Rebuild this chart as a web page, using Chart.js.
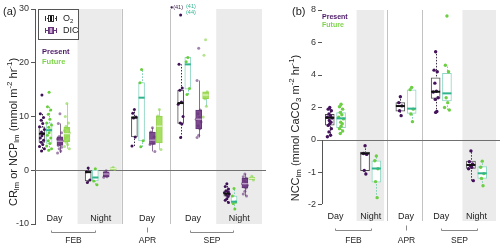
<!DOCTYPE html>
<html>
<head>
<meta charset="utf-8">
<title>CR / NCP and NCC box plots</title>
<script src="https://cdn.jsdelivr.net/npm/chart.js@4.4.1/dist/chart.umd.min.js"></script>
<style>
  html, body { margin: 0; padding: 0; background: #ffffff; }
  #panelA { position: absolute; left: 0; top: 0; width: 266px; height: 248px; }
  #panelB { position: absolute; left: 266px; top: 0; width: 234px; height: 248px; }
</style>
</head>
<body>
<div id="panelA"><canvas id="chartA"></canvas></div>
<div id="panelB"><canvas id="chartB"></canvas></div>
<script>
// ---- data -------------------------------------------------------------
const categories = ['FEB Day', 'FEB Night', 'APR Day', 'SEP Day', 'SEP Night'];
const periodLabels = ['Day', 'Night', 'Day', 'Day', 'Night'];
const isNight = [false, true, false, false, true];
const monthLabels = ['FEB', 'APR', 'SEP'];
const monthSpans = [[0, 1], [2, 2], [3, 4]];
const yTicksA = [-10, 0, 10, 20, 30];
const yTicksBTop = [0, 1, 2, 3, 4, 5, 6, 7, 8];
const yTicksBBottom = [-2, -1];

// box stats: [whisker low, Q1, median, Q3, whisker high]
const o2PresentBox = [
  [3.5, 5.2, 6.8, 8.1, 10.5],
  [-2.3, -2.0, -0.35, -0.25, 0.4],
  [4.5, 6.2, 9.8, 9.95, 11.3],
  [6.1, 8.7, 12.5, 14.9, 19.7],
  [-6.0, -4.8, -4.35, -3.85, -2.5]
];
const o2PresentPts = [
  [14.0, 10.5, 9.8, 9.3, 8.7, 8.1, 7.6, 7.1, 6.8, 6.4, 6.0, 5.6, 5.2, 4.8, 4.4, 4.0, 3.6],
  [0.4, -0.3, -1.8, -2.3],
  [11.3, 10.6, 9.9, 9.7, 6.2, 4.5],
  [28.9, 19.7, 15.3, 14.9, 12.7, 12.3, 10.0, 8.8, 8.6, 6.1],
  [-2.5, -3.0, -3.5, -3.8, -4.0, -4.2, -4.4, -4.6, -4.9, -5.3, -5.6, -6.0]
];
const o2FutureBox = [
  [3.7, 5.0, 7.45, 8.8, 11.8],
  [-2.7, -2.0, -1.35, 0.05, 0.3],
  [4.35, 5.45, 13.5, 16.3, 18.75],
  [14.1, 15.1, 19.7, 21.0, 21.0],
  [-7.2, -6.15, -5.85, -4.8, -3.4]
];
const o2FuturePts = [
  [14.5, 11.8, 11.2, 10.4, 9.5, 8.8, 8.4, 8.0, 7.5, 7.0, 6.5, 6.0, 5.5, 5.0, 4.5, 4.0, 3.7],
  [0.3, -2.0, -2.7],
  [18.75, 16.3, 5.5, 4.35],
  [21.0, 20.2, 15.2, 14.1],
  [-3.4, -4.8, -5.9, -6.2, -7.2]
];
const dicPresentBox = [
  [3.2, 4.6, 5.4, 6.2, 8.7],
  [-1.3, -1.2, -0.7, -0.3, -0.1],
  [3.5, 4.8, 5.6, 7.1, 7.9],
  [6.1, 7.7, 9.5, 11.2, 16.7],
  [-4.8, -3.3, -2.5, -1.5, -0.7]
];
const dicPresentPts = [
  [10.5, 8.7, 7.0, 6.3, 6.0, 5.8, 5.5, 5.3, 5.0, 4.8, 4.6, 4.3, 4.0, 3.6, 3.2],
  [-0.1, -0.4, -0.7, -0.9, -1.2, -1.3],
  [7.9, 7.1, 6.2, 5.6, 5.0, 4.8, 3.5],
  [22.7, 16.7, 11.2, 10.5, 9.8, 9.5, 9.0, 8.3, 7.7, 6.5, 6.1],
  [-0.7, -1.2, -1.5, -1.9, -2.2, -2.5, -2.8, -3.1, -3.3, -3.9, -4.4, -4.8]
];
const dicFutureBox = [
  [4.0, 5.3, 6.8, 8.0, 12.4],
  [0.1, 0.15, 0.3, 0.45, 0.5],
  [3.85, 5.1, 8.2, 10.1, 11.3],
  [11.9, 13.3, 14.0, 14.6, 14.6],
  [-1.8, -1.7, -1.5, -1.3, -1.1]
];
const dicFuturePts = [
  [12.4, 10.0, 8.8, 8.2, 7.8, 7.4, 7.0, 6.8, 6.5, 6.2, 5.9, 5.5, 5.2, 4.8, 4.4, 4.0],
  [0.5, 0.3, 0.15],
  [11.3, 10.1, 3.85],
  [24.3, 21.4, 14.6, 13.3, 11.9, 9.9],
  [-1.1, -1.5, -1.8]
];

const nccPresentBox = [
  [0.2, 0.92, 1.37, 1.58, 2.0],
  [-1.06, -0.96, -0.42, -0.38, -0.18],
  [1.5, 1.78, 2.09, 2.3, 2.66],
  [1.7, 2.56, 2.97, 3.83, 5.43],
  [-1.27, -0.89, -0.78, -0.66, -0.34]
];
const nccPresentPts = [
  [2.0, 1.9, 1.8, 1.6, 1.5, 1.4, 1.35, 1.2, 1.1, 1.0, 0.9, 0.7, 0.5, 0.3, 0.2],
  [-0.18, -0.42, -0.45, -0.95, -1.06],
  [2.66, 2.3, 2.1, 1.8, 1.5],
  [5.43, 4.3, 4.2, 3.5, 3.0, 2.95, 2.6, 2.5, 1.75, 1.7],
  [-0.34, -0.68, -0.75, -0.8, -0.85, -0.9, -1.27]
];
const nccFutureBox = [
  [0.4, 0.76, 1.33, 1.68, 2.2],
  [-1.8, -1.32, -0.89, -0.65, -0.5],
  [1.13, 1.64, 1.93, 3.08, 3.24],
  [1.85, 2.4, 2.87, 4.1, 4.6],
  [-1.43, -1.2, -1.04, -0.83, -0.66]
];
const nccFuturePts = [
  [2.2, 2.05, 1.9, 1.7, 1.55, 1.4, 1.3, 1.1, 1.0, 0.85, 0.7, 0.55, 0.4],
  [-0.5, -0.65, -0.9, -1.3, -1.8],
  [3.24, 3.1, 1.9, 1.6, 1.13],
  [7.63, 4.6, 4.2, 2.6, 2.3, 2.0, 1.85],
  [-0.66, -0.85, -1.05, -1.2, -1.43]
];

// ---- styles -----------------------------------------------------------
const FONT = '"Liberation Sans", Arial, Helvetica, sans-serif';
const PURPLE = '#4a1766';
const GREEN = '#7fd44c';
const TEAL = '#30b48e';
Chart.defaults.font.family = FONT;

const seriesA = [
  { stats: o2PresentBox, pts: o2PresentPts, offset: -0.27, width: 6, fill: '#ffffff', border: '#4d4d4d',
    median: '#111111', medianW: 2, whisker: '#3a2d44', dash: [1.5, 1.5], ptColor: '#3f1156', r: 1.5, jit: 0.035 },
  { stats: o2FutureBox, pts: o2FuturePts, offset: -0.115, width: 6, fill: '#ffffff', border: '#8fd6c4',
    median: TEAL, medianW: 2, whisker: '#77cdb4', dash: [1.5, 1.5], ptColor: '#66cf3a', r: 1.5, jit: 0.035 },
  { stats: dicPresentBox, pts: dicPresentPts, offset: 0.12, width: 6, fill: '#7e4b8f', border: '#623476',
    median: '#c9a8d4', medianW: 1.2, whisker: '#8b6e98', dash: [], ptColor: 'rgba(100,50,120,0.6)', r: 1.5, jit: 0.035 },
  { stats: dicFutureBox, pts: dicFuturePts, offset: 0.27, width: 6, fill: '#a7df62', border: '#95d24e',
    median: '#e4f6c9', medianW: 1.2, whisker: '#9edbc9', dash: [], ptColor: 'rgba(140,215,80,0.65)', r: 1.5, jit: 0.035 }
];
const seriesB = [
  { stats: nccPresentBox, pts: nccPresentPts, offset: -0.16, width: 9, fill: '#ffffff', border: '#4d4d4d',
    median: '#111111', medianW: 2, whisker: '#3a2d44', dash: [1.5, 1.5], ptColor: '#44125c', r: 1.7, jit: 0.045 },
  { stats: nccFutureBox, pts: nccFuturePts, offset: 0.16, width: 9, fill: '#ffffff', border: '#8fd6c4',
    median: TEAL, medianW: 2, whisker: '#77cdb4', dash: [1.5, 1.5], ptColor: '#6ccf43', r: 1.7, jit: 0.045 }
];

// ---- helpers ----------------------------------------------------------
function jitter(i, w) {
  const p = [0, -1, 1, -0.5, 0.5, -1.5, 1.5, -0.25, 0.75];
  return p[i % p.length] * w;
}

function line(ctx, x0, y0, x1, y1) {
  ctx.beginPath();
  ctx.moveTo(x0, y0);
  ctx.lineTo(x1, y1);
  ctx.stroke();
}

function drawRich(ctx, parts, cx, cy, size, rotate) {
  ctx.save();
  ctx.translate(cx, cy);
  if (rotate) ctx.rotate(-Math.PI / 2);
  let total = 0;
  const items = parts.map(p => {
    const fs = p.s ? size * 0.72 : size;
    ctx.font = fs + 'px ' + FONT;
    const w = ctx.measureText(p.t).width;
    total += w;
    return { p, fs, w };
  });
  let x = -total / 2;
  ctx.textBaseline = 'middle';
  ctx.textAlign = 'left';
  ctx.fillStyle = '#222';
  items.forEach(it => {
    ctx.font = it.fs + 'px ' + FONT;
    const dy = it.p.s === 'sub' ? size * 0.3 : it.p.s === 'sup' ? -size * 0.35 : 0;
    ctx.fillText(it.p.t, x, dy);
    x += it.w;
  });
  ctx.restore();
}

function buildDatasets(series, axisFor) {
  const ds = [];
  series.forEach(s => {
    const groups = {};
    s.stats.forEach((st, i) => {
      const ax = axisFor(i);
      if (!groups[ax]) groups[ax] = { bars: [], pts: [] };
      groups[ax].bars.push({ x: i + s.offset, y: [st[1], st[3]] });
      s.pts[i].forEach((v, j) => groups[ax].pts.push({ x: i + s.offset + jitter(j, s.jit), y: v }));
    });
    Object.keys(groups).forEach(ax => {
      ds.push({
        type: 'bar', data: groups[ax].bars, xAxisID: 'x', yAxisID: ax,
        backgroundColor: s.fill, borderColor: s.border, borderWidth: 1, borderSkipped: false,
        barThickness: s.width, maxBarThickness: s.width, grouped: false, order: 2
      });
      ds.push({
        type: 'scatter', data: groups[ax].pts, xAxisID: 'x', yAxisID: ax,
        pointRadius: s.r, pointBackgroundColor: s.ptColor, pointBorderWidth: 0, order: 1
      });
    });
  });
  return ds;
}

// bands, separators, zero line, whiskers, medians and text labels
function boxDecor(cfg) {
  return {
    id: 'boxDecor',
    beforeDatasetsDraw(chart) {
      const { ctx, chartArea: ca } = chart;
      const xs = chart.scales.x;
      ctx.save();
      ctx.fillStyle = '#ebebeb';
      cfg.bands.forEach(([a, b]) => {
        const x0 = xs.getPixelForValue(a);
        const x1 = Math.min(xs.getPixelForValue(b), ca.right);
        ctx.fillRect(x0, ca.top, x1 - x0, ca.bottom - ca.top);
      });
      ctx.strokeStyle = '#c2c2c2';
      ctx.lineWidth = 1;
      cfg.lines.forEach(v => {
        const x = Math.round(xs.getPixelForValue(v)) + 0.5;
        line(ctx, x, ca.top, x, ca.bottom);
      });
      const yz = Math.round(chart.scales[cfg.zeroAxis].getPixelForValue(0)) + 0.5;
      ctx.strokeStyle = '#707070';
      line(ctx, ca.left - cfg.zeroExtendLeft, yz, chart.width, yz);
      if (cfg.lowerAxis) {
        const ys = chart.scales[cfg.lowerAxis];
        const x = ca.left + 0.5;
        ctx.strokeStyle = '#555';
        line(ctx, x, ys.getPixelForValue(0), x, ys.getPixelForValue(-2));
      }
      cfg.series.forEach(s => s.stats.forEach((st, i) => {
        const ys = chart.scales[cfg.axisFor(i)];
        const x = Math.round(xs.getPixelForValue(i + s.offset)) + 0.5;
        ctx.strokeStyle = s.whisker;
        ctx.setLineDash(s.dash);
        ctx.lineWidth = 1;
        line(ctx, x, ys.getPixelForValue(st[0]), x, ys.getPixelForValue(st[4]));
      }));
      ctx.setLineDash([]);
      ctx.restore();
    },
    afterDatasetsDraw(chart) {
      const ctx = chart.ctx;
      const xs = chart.scales.x;
      ctx.save();
      cfg.series.forEach(s => s.stats.forEach((st, i) => {
        const ys = chart.scales[cfg.axisFor(i)];
        const x = xs.getPixelForValue(i + s.offset);
        const y = ys.getPixelForValue(st[2]);
        ctx.strokeStyle = s.median;
        ctx.lineWidth = s.medianW;
        line(ctx, x - s.width / 2, y, x + s.width / 2, y);
      }));
      ctx.restore();
    },
    afterDraw(chart) {
      const ctx = chart.ctx;
      const xs = chart.scales.x;
      ctx.save();
      ctx.fillStyle = '#222';
      ctx.textAlign = 'center';
      ctx.textBaseline = 'middle';
      ctx.font = '9px ' + FONT;
      periodLabels.forEach((t, i) => ctx.fillText(t, xs.getPixelForValue(i), cfg.periodY));
      ctx.strokeStyle = '#8a8a8a';
      ctx.lineWidth = 1;
      monthSpans.forEach(([a, b], k) => {
        const x0 = Math.round(xs.getPixelForValue(a) + (a === b ? 0 : cfg.bracketIn[0])) + 0.5;
        const x1 = Math.round(xs.getPixelForValue(b) + (a === b ? 0 : cfg.bracketIn[1])) + 0.5;
        const y = cfg.bracketY + 0.5;
        if (a === b) {
          line(ctx, x0, y - 5, x0, y);
        } else {
          line(ctx, x0, y, x1, y);
          line(ctx, x0, y - 2, x0, y);
          line(ctx, x1, y - 2, x1, y);
        }
        ctx.font = '8.5px ' + FONT;
        ctx.fillText(monthLabels[k], (x0 + x1) / 2, cfg.monthY);
      });
      ctx.textAlign = 'left';
      ctx.font = '11px ' + FONT;
      ctx.fillText(cfg.panelLabel, cfg.panelLabelX, 12);
      drawRich(ctx, cfg.title, cfg.titleX, cfg.titleY, 11, true);
      ctx.font = 'bold ' + cfg.keyFont + 'px ' + FONT;
      ctx.fillStyle = PURPLE;
      ctx.fillText('Present', cfg.keyX, cfg.keyY);
      ctx.fillStyle = GREEN;
      ctx.fillText('Future', cfg.keyX, cfg.keyY + cfg.keyGap);
      if (cfg.extra) cfg.extra(ctx, chart);
      ctx.restore();
    }
  };
}

function legendIcon(ctx, x, y, fill, border, median, dashed) {
  ctx.strokeStyle = border;
  ctx.lineWidth = 1;
  ctx.setLineDash(dashed ? [1, 1] : []);
  line(ctx, x, y + 0.5, x + 12, y + 0.5);
  ctx.setLineDash([]);
  line(ctx, x + 0.5, y - 2, x + 0.5, y + 3);
  line(ctx, x + 11.5, y - 2, x + 11.5, y + 3);
  ctx.fillStyle = fill;
  ctx.fillRect(x + 3, y - 3, 6, 7);
  ctx.strokeRect(x + 3.5, y - 2.5, 5, 6);
  ctx.strokeStyle = median;
  ctx.lineWidth = 2;
  line(ctx, x + 6, y - 2, x + 6, y + 3);
}

function fixedTicks(values) {
  return s => { s.ticks = values.map(v => ({ value: v })); };
}

function yAxis(extra) {
  return Object.assign({
    type: 'linear',
    position: 'left',
    ticks: { color: '#333', font: { size: 9, family: FONT }, padding: 2 },
    grid: { drawOnChartArea: false, drawTicks: true, tickLength: 4, color: '#555' },
    border: { display: false }
  }, extra);
}

// ---- panel (a) --------------------------------------------------------
const axisA = () => 'y';
new Chart(document.getElementById('chartA'), {
  type: 'scatter',
  data: { datasets: buildDatasets(seriesA, axisA) },
  options: {
    responsive: true,
    maintainAspectRatio: false,
    animation: false,
    layout: { padding: { top: 9, bottom: 24, left: 0, right: 3 } },
    plugins: { legend: { display: false }, tooltip: { enabled: false } },
    scales: {
      x: { type: 'linear', min: -0.42, max: 4.49, display: false, offset: false },
      y: yAxis({
        min: -10, max: 30,
        border: { display: true, color: '#555' },
        afterBuildTicks: fixedTicks(yTicksA),
        afterFit: s => { s.width = 35; }
      })
    }
  },
  plugins: [boxDecor({
    series: seriesA, axisFor: axisA, zeroAxis: 'y', zeroExtendLeft: 0,
    bands: [[0.5, 1.455], [3.5, 4.6]], lines: [1.455, 2.51],
    periodY: 219, bracketY: 232, monthY: 241, bracketIn: [-3, -6],
    panelLabel: '(a)', panelLabelX: 3,
    title: [{ t: 'CR' }, { t: 'lm', s: 'sub' }, { t: ' or NCP' }, { t: 'lm', s: 'sub' },
            { t: ' (mmol m' }, { t: '-2', s: 'sup' }, { t: ' hr' }, { t: '-1', s: 'sup' }, { t: ')' }],
    titleX: 14, titleY: 132,
    keyX: 42, keyY: 52, keyGap: 10, keyFont: 7.5,
    extra(ctx) {
      ctx.fillStyle = '#ffffff';
      ctx.fillRect(38, 9, 41, 31);
      ctx.strokeStyle = '#555';
      ctx.lineWidth = 1;
      ctx.strokeRect(38.5, 9.5, 40, 30);
      legendIcon(ctx, 45, 18, '#ffffff', '#333', '#111', true);
      legendIcon(ctx, 45, 30, '#7e4b8f', '#623476', '#c9a8d4', false);
      ctx.fillStyle = '#222';
      ctx.font = '9px ' + FONT;
      ctx.fillText('O', 63, 19);
      const w = ctx.measureText('O').width;
      ctx.font = '6px ' + FONT;
      ctx.fillText('2', 63 + w, 21.5);
      ctx.font = '9px ' + FONT;
      ctx.fillText('DIC', 63, 31);
      ctx.font = '5.5px ' + FONT;
      ctx.fillStyle = '#3a1a4a';
      ctx.textAlign = 'right';
      ctx.fillText('\u25CF(41)', 183, 7);
      ctx.textAlign = 'left';
      ctx.fillStyle = TEAL;
      ctx.fillText('(41)', 186, 6);
      ctx.fillText('(44)', 186, 12.5);
    }
  })]
});

// ---- panel (b) --------------------------------------------------------
const axisB = i => (isNight[i] ? 'yBot' : 'yTop');
new Chart(document.getElementById('chartB'), {
  type: 'scatter',
  data: { datasets: buildDatasets(seriesB, axisB) },
  options: {
    responsive: true,
    maintainAspectRatio: false,
    animation: false,
    layout: { padding: { top: 10, bottom: 27, left: 0, right: 2 } },
    plugins: { legend: { display: false }, tooltip: { enabled: false } },
    scales: {
      x: { type: 'linear', min: -0.38, max: 4.55, display: false, offset: false },
      yTop: yAxis({
        min: 0, max: 8, stack: 'ncc', stackWeight: 130, weight: 1,
        afterBuildTicks: fixedTicks(yTicksBTop),
        afterFit: s => { s.width = 56; }
      }),
      yBot: yAxis({
        min: -2.53, max: 0, stack: 'ncc', stackWeight: 81, weight: 0,
        afterBuildTicks: fixedTicks(yTicksBBottom),
        afterFit: s => { s.width = 56; }
      })
    }
  },
  plugins: [boxDecor({
    series: seriesB, axisFor: axisB, zeroAxis: 'yTop', zeroExtendLeft: 5, lowerAxis: 'yBot',
    bands: [[0.6, 1.38], [3.6, 4.7]], lines: [1.47, 2.45],
    periodY: 216.5, bracketY: 230, monthY: 241, bracketIn: [0, 0],
    panelLabel: '(b)', panelLabelX: 26,
    title: [{ t: 'NCC' }, { t: 'lm', s: 'sub' }, { t: ' (mmol CaCO' }, { t: '3', s: 'sub' },
            { t: ' m' }, { t: '-2', s: 'sup' }, { t: ' hr' }, { t: '-1', s: 'sup' }, { t: ')' }],
    titleX: 30, titleY: 128,
    keyX: 56, keyY: 17.5, keyGap: 8, keyFont: 7
  })]
});
</script>
</body>
</html>
